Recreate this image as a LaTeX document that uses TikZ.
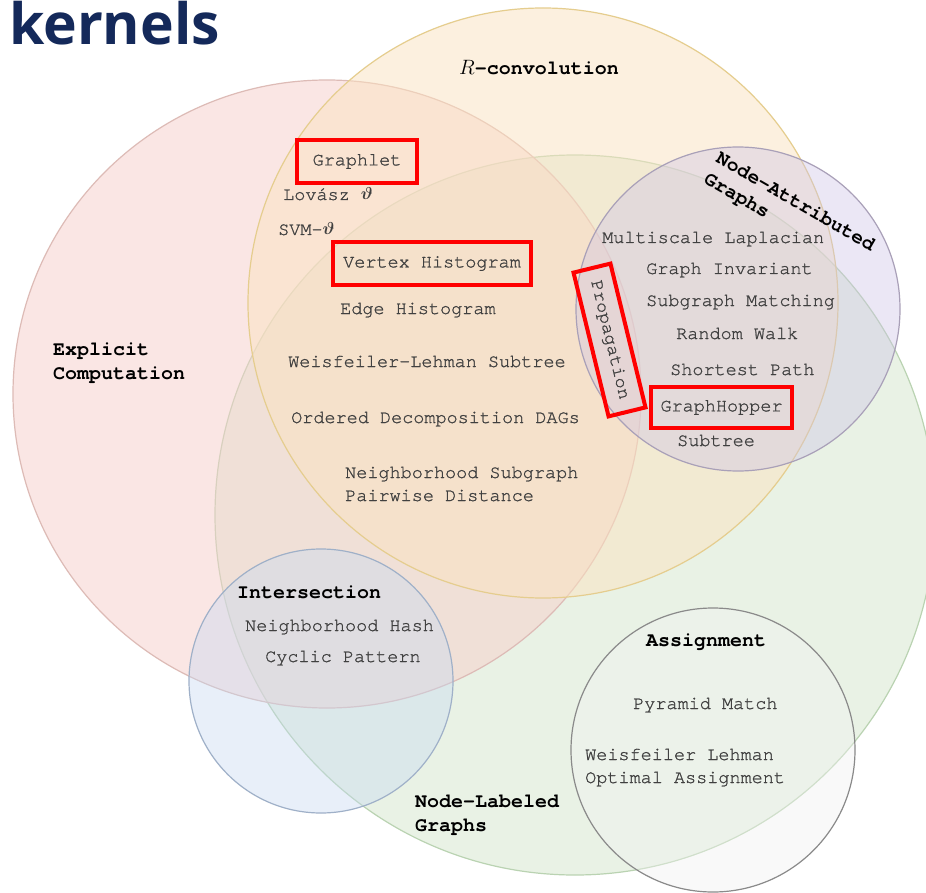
\documentclass[tikz,border=0pt]{standalone}
\usepackage{amsmath}
\usepackage{fontspec}
\setmonofont{TeX Gyre Cursor}
\newfontfamily\itemfont{TeX Gyre Cursor}[FakeBold=1.1]
\newfontfamily\headfont{Open Sans}
\definecolor{navy}{HTML}{14295A}
\definecolor{itemgray}{HTML}{404040}
\definecolor{boxred}{HTML}{FF0000}
\definecolor{cRed}{HTML}{F7CFCB}
\definecolor{cRedL}{HTML}{DDBBB6}
\definecolor{cOra}{HTML}{FBE3C1}
\definecolor{cOraL}{HTML}{E5CD8E}
\definecolor{cGre}{HTML}{C0DAB5}
\definecolor{cGreL}{HTML}{BAD3B2}
\definecolor{cPur}{HTML}{CDC4E6}
\definecolor{cPurL}{HTML}{A9A0B8}
\definecolor{cBlu}{HTML}{C6D9F2}
\definecolor{cBluL}{HTML}{9FB0C8}
\definecolor{cGry}{HTML}{F2F2F2}
\definecolor{cGryL}{HTML}{8A8A8A}
\begin{document}
\begin{tikzpicture}[x=1pt,y=-1pt,
  venn/.style={line width=1.2pt},
  item/.style={anchor=base west, inner sep=0pt, font=\itemfont\fontsize{18.5}{22}\selectfont, text=itemgray},
  ttl/.style={anchor=base west, inner sep=0pt, font=\ttfamily\bfseries\fontsize{20}{24}\selectfont, text=black},
  redbox/.style={draw=boxred, line width=4pt, inner sep=0pt, font=\itemfont\fontsize{18.5}{22}\selectfont, text=itemgray}]
\useasboundingbox (0,0) rectangle (926,893);
\fill[white] (0,0) rectangle (926,893);
% circles
\draw[venn, draw=cGreL, fill=cGre, fill opacity=0.35] (575,515) circle[radius=360pt];
\draw[venn, draw=cRedL, fill=cRed, fill opacity=0.5] (327,394) circle[radius=314pt];
\draw[venn, draw=cOraL, fill=cOra, fill opacity=0.5] (543,303) circle[radius=295pt];
\draw[venn, draw=cPurL, fill=cPur, fill opacity=0.4] (738,309) circle[radius=162pt];
\draw[venn, draw=cBluL, fill=cBlu, fill opacity=0.4] (321,681) circle[radius=132pt];
\draw[venn, draw=cGryL, fill=cGry, fill opacity=0.4] (713,750) circle[radius=142pt];
% heading
\node[anchor=base west, inner sep=0pt, text=navy, font=\headfont\bfseries\fontsize{57}{60}\selectfont] (head) at (9,45) {kernels};
% titles
\node[anchor=base west, inner sep=0pt, font=\ttfamily\bfseries\fontsize{20}{24}\selectfont] (rconv) at (459,75) {$R$-convolution};
\node[ttl] (expl1) at (53,355) {Explicit};
\node[ttl] (expl2) at (53,379) {Computation};
\node[ttl] (inter) at (237,598) {Intersection};
\node[ttl] (assign) at (646,646) {Assignment};
\node[ttl] (nl1) at (415,807) {Node-Labeled};
\node[ttl] (nl2) at (415,831) {Graphs};
\node[inner sep=0pt, rotate=-30, align=left, font=\ttfamily\bfseries\fontsize{20}{24}\selectfont] (na) at (789,213) {Node-Attributed\\Graphs};
% red boxes
\node[redbox, minimum width=120pt, minimum height=43pt] (graphlet) at (357,161.5) {Graphlet};
\node[redbox, minimum width=198pt, minimum height=43pt] (vhist) at (432,263.5) {Vertex Histogram};
\node[redbox, minimum width=141pt, minimum height=41pt] (ghop) at (721.5,407.5) {GraphHopper};
\node[redbox, minimum width=148pt, minimum height=38pt, rotate=-76.3] (prop) at (609.5,340) {Propagation};
% items
\node[item] (lovasz) at (283,200) {Lovász $\boldsymbol{\vartheta}$};
\node[item] (svm) at (278,235) {SVM-$\boldsymbol{\vartheta}$};
\node[item] (ehist) at (340,314) {Edge Histogram};
\node[item] (wls) at (288,367) {Weisfeiler-Lehman Subtree};
\node[item] (odd) at (291,423) {Ordered Decomposition DAGs};
\node[item] (nsg) at (345,478) {Neighborhood Subgraph};
\node[item] (pwd) at (345,501) {Pairwise Distance};
\node[item] (nhash) at (245,631) {Neighborhood Hash};
\node[item] (cyc) at (265,662) {Cyclic Pattern};
\node[item] (pyr) at (633,709) {Pyramid Match};
\node[item] (wloa1) at (585,760) {Weisfeiler Lehman};
\node[item] (wloa2) at (585,783) {Optimal Assignment};
\node[item] (msl) at (602,243) {Multiscale Laplacian};
\node[item] (ginv) at (646,274) {Graph Invariant};
\node[item] (sgm) at (646,306) {Subgraph Matching};
\node[item] (rw) at (676,339) {Random Walk};
\node[item] (sp) at (670,375) {Shortest Path};
\node[item] (sub) at (677,446) {Subtree};
\end{tikzpicture}
\end{document}
